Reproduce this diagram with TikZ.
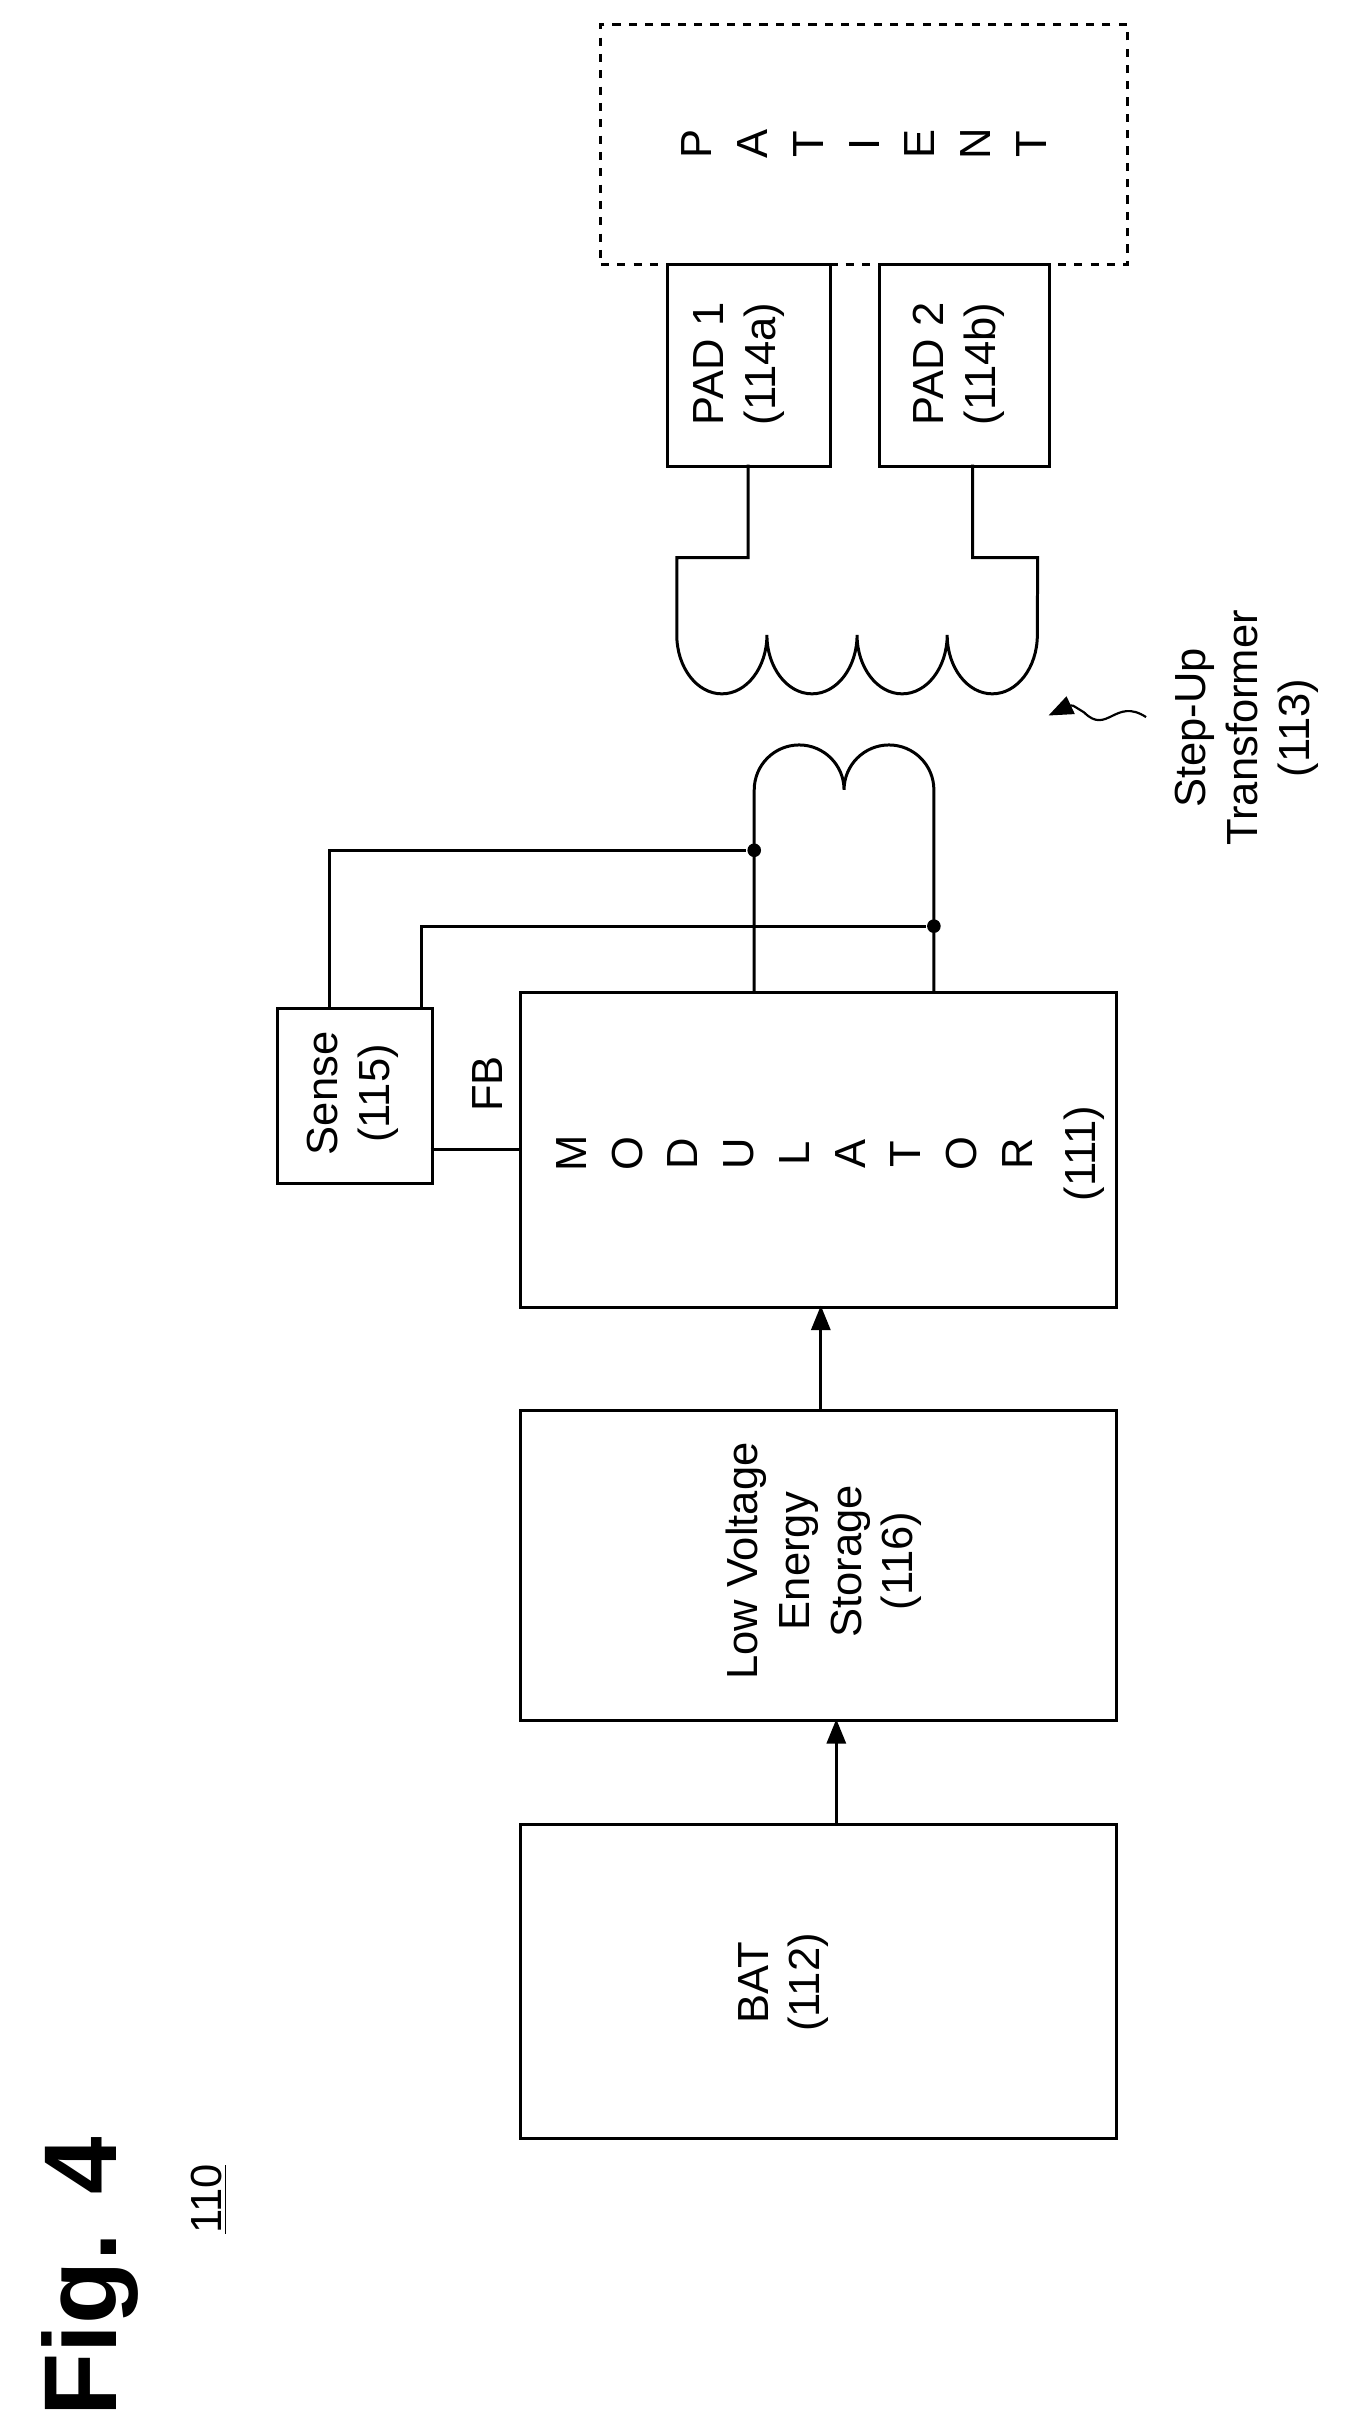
\documentclass[tikz,border=0pt]{standalone}
\usepackage{fontspec}
\setmainfont{Liberation Sans}
\usetikzlibrary{arrows.meta,decorations.pathmorphing}
\begin{document}
\begin{tikzpicture}[x=0.02cm,y=-0.02cm,line width=1.1pt,
  box/.style={draw,inner sep=0,anchor=north west},
  rt/.style={rotate=90,align=center,font=\fontsize{16}{19}\selectfont},
  dot/.style={circle,fill,inner sep=0,minimum size=5pt},
  arr/.style={-{Triangle[length=9pt,width=7pt]}}]
\useasboundingbox (0,0) rectangle (880,1560);
% boxes
\node[box,minimum width=385*0.02cm,minimum height=203*0.02cm] (bat) at (335,1177) {};
\node[box,minimum width=385*0.02cm,minimum height=200*0.02cm] (lv) at (335,910) {};
\node[box,minimum width=385*0.02cm,minimum height=203*0.02cm] (mod) at (335,640) {};
\node[box,minimum width=100*0.02cm,minimum height=113*0.02cm] (sense) at (178,650) {};
\node[box,minimum width=105*0.02cm,minimum height=130*0.02cm] (pad1) at (430,170) {};
\node[box,minimum width=110*0.02cm,minimum height=130*0.02cm] (pad2) at (567,170) {};
\node[box,dashed,minimum width=340*0.02cm,minimum height=155*0.02cm] (pat) at (387,15) {};
% texts
\node[rt] (tbat) at (506,1280) {BAT\\(112)};
\node[rt] (tlv) at (532,1008) {Low Voltage\\Energy\\Storage\\(116)};
\node[rt] (tsense) at (228,706) {Sense\\(115)};
\node[rt] (tp1) at (477,235) {PAD 1\\(114a)};
\node[rt] (tp2) at (619,235) {PAD 2\\(114b)};
\node[rt] (tfb) at (315,700) {FB};
\node[rt] (tst) at (805,470) {Step-Up\\Transformer\\(113)};
\foreach \l [count=\i] in {M,O,D,U,L,A,T,O,R}
  \node[rt] (m\i) at (333+36*\i,745) {\l};
\node[rt] (m10) at (700,745) {(111)};
\foreach \l [count=\i] in {P,A,T,I,E,N,T}
  \node[rt] (p\i) at (414+36*\i,93) {\l};
\node[rotate=90,font=\fontsize{38}{44}\selectfont\bfseries] (fig) at (58,1470) {Fig. 4};
\node[rotate=90,font=\fontsize{16}{19}\selectfont] (n110) at (135,1420) {\underline{110}};
% arrows
\draw[arr] (540,1177) -- (540,1110);
\draw[arr] (530,910) -- (530,843);
% sense wires
\draw (278,742) -- (335,742);
\node[dot] (d1) at (487,549) {};
\node[dot] (d2) at (603,598) {};
\draw (213,650) -- (213,549) -- (d1);
\draw (272,650) -- (272,598) -- (d2);
% primary
\draw (487,640) -- (487,510) arc[start angle=180,end angle=0,x radius=29,y radius=-29]
  arc[start angle=180,end angle=0,x radius=29,y radius=-29] -- (603,640);
% secondary
\draw (483,300) -- (483,360) -- (437,360) -- (437,410)
  arc[start angle=180,end angle=360,x radius=29.1,y radius=-38]
  arc[start angle=180,end angle=360,x radius=29.1,y radius=-38]
  arc[start angle=180,end angle=360,x radius=29.1,y radius=-38]
  arc[start angle=180,end angle=360,x radius=29.1,y radius=-38]
  -- (670,360) -- (628,360) -- (628,300);
% squiggle
\draw[arr,line width=0.8pt] (740,463) .. controls (720,450) and (715,475) .. (700,460) .. controls (692,455) .. (677,462);
\end{tikzpicture}
\end{document}
